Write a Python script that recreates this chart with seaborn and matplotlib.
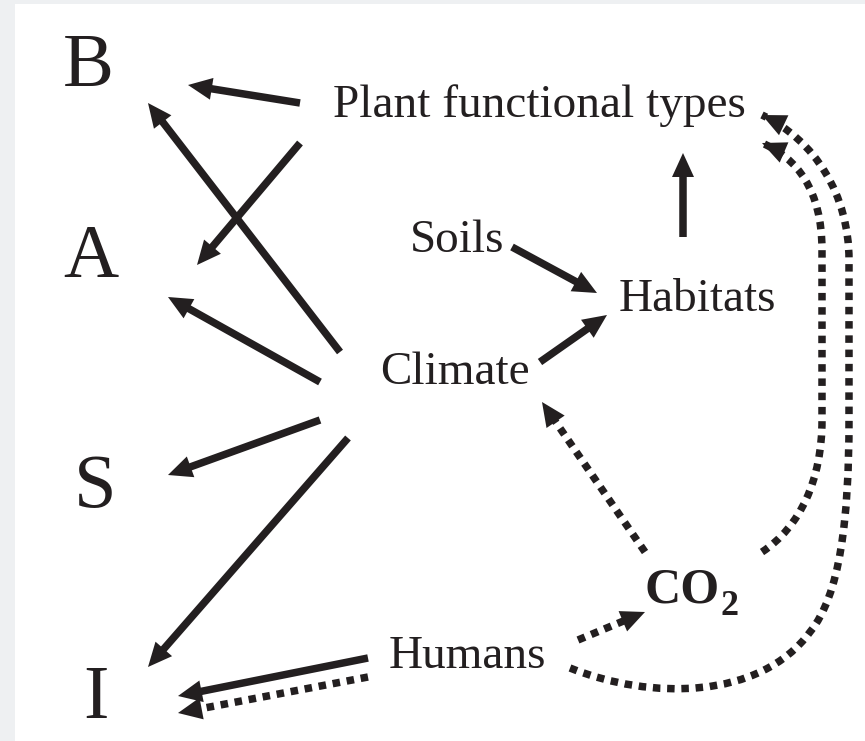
import numpy as np
import matplotlib
matplotlib.use("Agg")
import matplotlib.pyplot as plt
import seaborn as sns
from matplotlib.path import Path
from matplotlib.patches import PathPatch, Polygon

# -----------------------------
# STYLE
# -----------------------------
sns.set_theme(style="white")
plt.rcParams["font.family"] = ["Liberation Serif", "DejaVu Serif"]

INK = "#231f20"
PAGE = "#eef0f2"

# -----------------------------
# DATA (pixel layout of the diagram)
# -----------------------------
# big letters on the left
letter_names = ["B", "A", "S", "I"]
letter_x = [88, 91, 95, 96]
letter_y = [86, 277, 507, 718]   # baselines

# factor labels
label_names = ["Plant functional types", "Soils", "Habitats", "Climate", "Humans"]
label_x = [539, 457, 697, 455, 467]
label_y = [117, 252, 311, 384, 668]

co2_pos = (720, 603)

# solid arrows: (tail, tip)
solid_edges = [
    ((300, 103), (188, 85)),    # PFT -> B
    ((300, 143), (197, 265)),   # PFT -> A
    ((340, 352), (148, 103)),   # Climate -> B
    ((320, 382), (168, 297)),   # Climate -> A
    ((320, 420), (168, 475)),   # Climate -> S
    ((348, 438), (148, 667)),   # Climate -> I
    ((368, 658), (178, 696)),   # Humans -> I
    ((512, 247), (597, 293)),   # Soils -> Habitats
    ((540, 362), (607, 315)),   # Climate -> Habitats
    ((683, 237), (683, 153)),   # Habitats -> PFT
]

# dotted straight arrows
dotted_edges = [
    ((368, 677), (178, 713)),   # Humans -> I
    ((645, 552), (542, 402)),   # CO2 -> Climate
    ((578, 640), (645, 612)),   # Humans -> CO2
]

# dotted curved arrows (bezier vertices + codes)
co2_pft_verts = [(762, 552), (800, 527), (822, 480), (822, 420),
                 (822, 250), (822, 190), (797, 158), (762, 143)]
co2_pft_codes = "MCCCLCCC"

humans_pft_verts = [(570, 668), (650, 700), (760, 700), (810, 632),
                    (840, 595), (849, 520), (849, 420),
                    (849, 260), (849, 195), (815, 140), (762, 115)]
humans_pft_codes = "MCCCCCCLCCC"

LW = 5.4
HEAD_LEN = 24
HEAD_HW = 11
DOTS = (0, (1, 0.9))

CODE_MAP = {"M": Path.MOVETO, "L": Path.LINETO, "C": Path.CURVE4}


def draw_head(ax, prev, tip):
    prev = np.array(prev, float)
    tip = np.array(tip, float)
    d = (tip - prev) / np.linalg.norm(tip - prev)
    n = np.array([-d[1], d[0]])
    base = tip - HEAD_LEN * d
    ax.add_patch(Polygon([tip, base + HEAD_HW * n, base - HEAD_HW * n],
                         closed=True, facecolor=INK, edgecolor="none", zorder=3))
    return base, d


def draw_straight(ax, tail, tip, dotted=False):
    base, d = draw_head(ax, tail, tip)
    end = base + 0.4 * HEAD_LEN * d
    ax.plot([tail[0], end[0]], [tail[1], end[1]], color=INK, lw=LW,
            ls=DOTS if dotted else "-", solid_capstyle="butt",
            dash_capstyle="butt", zorder=2)


def draw_curve(ax, verts, codes):
    path = Path(verts, [CODE_MAP[c] for c in codes])
    ax.add_patch(PathPatch(path, fill=False, edgecolor=INK, lw=LW,
                           ls=DOTS, capstyle="butt", zorder=2))
    draw_head(ax, verts[-2], verts[-1])


# -----------------------------
# FIGURE
# -----------------------------
fig = plt.figure(figsize=(8.65, 7.41), dpi=100, facecolor=PAGE)
ax = fig.add_axes([15 / 865, 0, 850 / 865, 737 / 741])
ax.set_facecolor("white")
ax.set_xlim(15, 865)
ax.set_ylim(741, 4)
ax.set_xticks([])
ax.set_yticks([])
for s in ax.spines.values():
    s.set_visible(False)

for name, x, y in zip(letter_names, letter_x, letter_y):
    ax.text(x, y, name, fontsize=55, color=INK, ha="center", va="baseline")

for name, x, y in zip(label_names, label_x, label_y):
    ax.text(x, y, name, fontsize=34, color=INK, ha="center", va="baseline")

ax.text(co2_pos[0], co2_pos[1], "CO", fontsize=36, fontweight="bold",
        color=INK, ha="right", va="baseline")
ax.text(co2_pos[0] + 1, co2_pos[1] + 12, "2", fontsize=26, fontweight="bold",
        color=INK, ha="left", va="baseline")

for tail, tip in solid_edges:
    draw_straight(ax, tail, tip)

for tail, tip in dotted_edges:
    draw_straight(ax, tail, tip, dotted=True)

draw_curve(ax, co2_pft_verts, co2_pft_codes)
draw_curve(ax, humans_pft_verts, humans_pft_codes)

fig.savefig("out.png", dpi=100, facecolor=PAGE)
